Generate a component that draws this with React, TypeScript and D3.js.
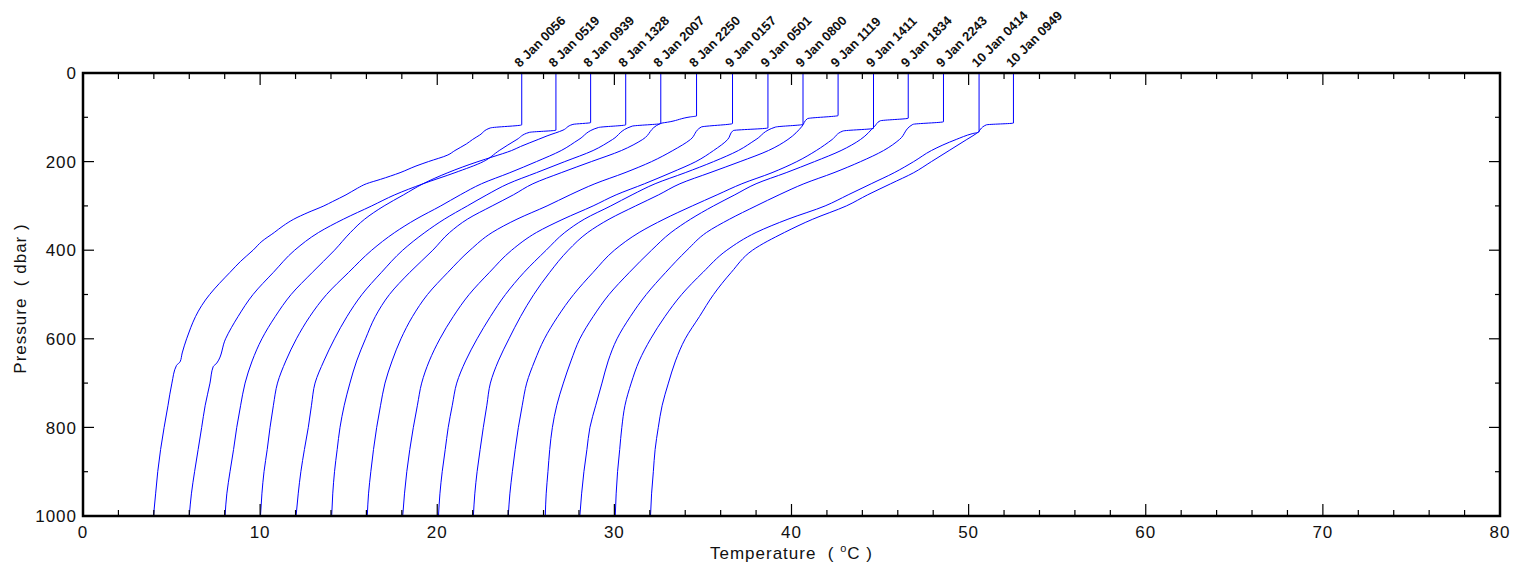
import React from 'react';
import * as d3 from 'd3';

// ---- data: [pressure (dbar), temperature (°C)] per cast; plotted with a 2 °C offset per cast ----
const castLabels = [
  '8 Jan 0056', '8 Jan 0519', '8 Jan 0939', '8 Jan 1328', '8 Jan 2007', '8 Jan 2250',
  '9 Jan 0157', '9 Jan 0501', '9 Jan 0800', '9 Jan 1119', '9 Jan 1411', '9 Jan 1834',
  '9 Jan 2243', '10 Jan 0414', '10 Jan 0949',
];
const castOffsets = [0, 2, 4, 6, 8, 10, 12, 14, 16, 18, 20, 22, 24, 26, 28];

const cast01: [number, number][] = [[0,24.77],[117,24.77],[124,23.0],[140,22.4],[150,22.0],[160,21.65],[175,21.0],[185,20.6],[200,19.5],[210,18.8],[225,17.9],[240,16.8],[250,16.0],[260,15.5],[275,14.85],[290,14.1],[300,13.6],[315,12.7],[330,11.9],[345,11.3],[360,10.8],[380,10.1],[400,9.6],[425,8.9],[450,8.3],[475,7.7],[500,7.15],[525,6.7],[550,6.35],[575,6.08],[600,5.85],[632,5.6],[652,5.48],[660,5.28],[700,5.02],[750,4.8],[800,4.58],[850,4.38],[900,4.22],[950,4.1],[1000,3.98]];
const cast02: [number, number][] = [[0,24.70],[129,24.70],[134,23.2],[150,22.5],[175,21.5],[200,20.6],[225,19.0],[250,17.2],[275,15.6],[300,14.3],[330,12.7],[360,11.3],[400,9.95],[450,8.75],[500,7.6],[550,6.75],[600,6.05],[655,5.55],[663,5.35],[700,5.17],[750,4.9],[800,4.7],[850,4.5],[900,4.3],[950,4.12],[1000,4.0]];
const cast03: [number, number][] = [[0,24.66],[112,24.66],[116,23.66],[129,23.1],[142,22.2],[150,21.7],[166,20.7],[175,20.2],[189,19.15],[200,18.3],[225,16.6],[250,15.2],[275,14.1],[300,13.0],[330,11.9],[360,11.1],[400,10.2],[450,8.95],[500,7.75],[550,6.85],[600,6.1],[650,5.55],[700,5.15],[750,4.9],[800,4.68],[850,4.5],[900,4.3],[950,4.12],[1000,4.02]];
const cast04: [number, number][] = [[0,24.64],[117,24.64],[123,23.1],[150,22.0],[175,21.0],[200,19.6],[225,18.1],[250,16.5],[275,15.3],[300,14.2],[330,12.8],[360,11.6],[400,10.3],[450,9.0],[500,7.75],[550,6.8],[600,6.05],[650,5.45],[700,4.98],[750,4.75],[800,4.56],[850,4.4],[900,4.22],[950,4.1],[1000,4.02]];
const cast05: [number, number][] = [[0,24.62],[114,24.62],[120,23.0],[150,21.9],[175,20.8],[200,19.2],[225,17.6],[250,16.0],[275,14.8],[300,13.7],[330,12.4],[360,11.3],[400,10.05],[450,8.85],[500,7.75],[550,6.9],[600,6.2],[650,5.6],[700,5.1],[750,4.9],[800,4.72],[850,4.5],[900,4.3],[950,4.15],[1000,4.03]];
const cast06: [number, number][] = [[0,24.64],[97,24.64],[99,24.3],[110,23.15],[114,22.6],[150,21.6],[175,20.4],[200,18.7],[225,17.0],[250,15.4],[275,14.3],[300,13.1],[330,11.7],[360,10.7],[400,9.75],[450,8.45],[500,7.3],[550,6.5],[600,5.95],[650,5.45],[700,5.07],[750,4.75],[800,4.51],[850,4.35],[900,4.2],[950,4.1],[1000,4.04]];
const cast07: [number, number][] = [[0,24.67],[114,24.67],[122,22.9],[150,22.3],[175,21.3],[200,20.1],[225,18.6],[250,16.9],[275,15.5],[300,14.2],[330,12.5],[360,11.1],[400,9.85],[450,8.6],[500,7.45],[550,6.6],[600,5.95],[650,5.45],[700,5.05],[750,4.8],[800,4.58],[850,4.4],[900,4.25],[950,4.12],[1000,4.05]];
const cast08: [number, number][] = [[0,24.67],[124,24.67],[130,22.7],[150,22.4],[175,21.6],[200,20.6],[225,19.2],[250,17.7],[275,16.1],[300,14.8],[330,13.1],[360,11.6],[400,10.2],[450,8.95],[500,7.8],[550,6.9],[600,6.15],[650,5.55],[700,5.12],[750,4.88],[800,4.65],[850,4.45],[900,4.28],[950,4.15],[1000,4.05]];
const cast09: [number, number][] = [[0,24.65],[116,24.65],[122,23.1],[150,22.0],[175,21.0],[200,19.6],[225,18.0],[250,16.3],[275,15.0],[300,13.8],[330,12.3],[360,11.2],[400,10.15],[450,8.9],[500,7.85],[550,7.0],[600,6.25],[650,5.6],[700,5.1],[750,4.85],[800,4.62],[850,4.45],[900,4.28],[950,4.15],[1000,4.07]];
const cast10: [number, number][] = [[0,24.63],[96,24.63],[103,22.9],[120,22.6],[150,21.8],[175,20.7],[200,19.1],[225,17.4],[250,15.7],[275,14.5],[300,13.2],[330,11.7],[360,10.5],[400,9.4],[450,8.35],[500,7.45],[550,6.7],[600,6.05],[650,5.45],[700,5.0],[750,4.8],[800,4.6],[850,4.42],[900,4.25],[950,4.12],[1000,4.04]];
const cast11: [number, number][] = [[0,24.63],[125,24.63],[131,22.9],[150,22.3],[175,21.4],[200,20.3],[225,18.9],[250,17.2],[275,15.8],[300,14.4],[330,12.8],[360,11.4],[400,10.0],[450,8.8],[500,7.7],[550,6.8],[600,6.05],[650,5.5],[700,5.05],[750,4.8],[800,4.58],[850,4.4],[900,4.24],[950,4.1],[1000,4.01]];
const cast12: [number, number][] = [[0,24.59],[102,24.59],[108,23.0],[120,22.7],[150,21.9],[175,20.8],[200,19.3],[225,17.7],[250,16.0],[275,14.8],[300,13.6],[330,12.3],[360,11.2],[400,10.1],[450,8.85],[500,7.7],[550,6.8],[600,6.05],[650,5.55],[700,5.12],[750,4.75],[800,4.5],[850,4.35],[900,4.25],[950,4.15],[1000,4.1]];
const cast13: [number, number][] = [[0,24.58],[110,24.58],[116,22.85],[150,22.1],[175,21.2],[200,19.9],[225,18.4],[250,16.7],[275,15.3],[300,14.0],[330,12.5],[360,11.2],[400,10.1],[450,8.9],[500,7.8],[550,6.9],[600,6.15],[650,5.65],[700,5.3],[750,4.95],[800,4.62],[850,4.45],[900,4.28],[950,4.15],[1000,4.05]];
const cast14: [number, number][] = [[0,24.59],[133,24.59],[137,24.2],[150,23.3],[175,21.9],[200,20.9],[225,19.8],[250,18.5],[275,17.2],[300,15.9],[330,13.8],[360,12.0],[400,10.35],[450,9.0],[500,7.8],[550,6.85],[600,6.05],[650,5.4],[700,4.95],[750,4.6],[800,4.42],[850,4.3],[900,4.18],[950,4.1],[1000,4.05]];
const cast15: [number, number][] = [[0,24.53],[113,24.53],[117,23.0],[136,22.46],[150,21.9],[175,20.9],[200,19.9],[225,18.9],[250,17.6],[275,16.3],[300,15.1],[330,13.2],[360,11.6],[400,9.8],[450,8.6],[500,7.6],[550,6.8],[600,6.0],[650,5.45],[700,5.05],[750,4.7],[800,4.48],[850,4.3],[900,4.2],[950,4.1],[1000,4.04]];

const casts = [cast01, cast02, cast03, cast04, cast05, cast06, cast07, cast08, cast09, cast10, cast11, cast12, cast13, cast14, cast15];

const xTickLabels = [0, 10, 20, 30, 40, 50, 60, 70, 80];
const yTickLabels = [0, 200, 400, 600, 800, 1000];

// ---- layout ----
const W = 1516;
const H = 571;
const X0 = 83, X1 = 1500, Y0 = 73, Y1 = 516;
const FONT = "'Liberation Sans', Arial, Helvetica, sans-serif";

const x = d3.scaleLinear().domain([0, 80]).range([X0, X1]);
const y = d3.scaleLinear().domain([0, 1000]).range([Y0, Y1]);

export default function App() {
  const minorX = x.ticks(40);
  const minorY = y.ticks(10);
  const isMajorX = (v: number) => xTickLabels.includes(v);
  const isMajorY = (v: number) => yTickLabels.includes(v);

  return (
    <svg width={W} height={H} style={{ position: 'absolute', left: 0, top: 0, background: '#fff' }}>
      <rect x={0} y={0} width={W} height={H} fill="#fff" />
      {/* profiles */}
      <g fill="none" stroke="#0000ff" strokeWidth={1}>
        {casts.map((c, i) => {
          const line = d3.line<[number, number]>()
            .x(d => x(d[1] + castOffsets[i]))
            .y(d => y(d[0]))
            .curve(d3.curveMonotoneY);
          return <path key={i} d={line(c) || ''} />;
        })}
      </g>
      {/* ticks */}
      <g stroke="#000" strokeWidth={1.2}>
        {minorX.map(v => {
          const len = isMajorX(v) ? 12 : 6;
          return (
            <g key={'x' + v}>
              <line x1={x(v)} x2={x(v)} y1={Y1} y2={Y1 - len} />
              <line x1={x(v)} x2={x(v)} y1={Y0} y2={Y0 + len} />
            </g>
          );
        })}
        {minorY.map(v => {
          const len = isMajorY(v) ? 11 : 5;
          return (
            <g key={'y' + v}>
              <line x1={X0} x2={X0 + len} y1={y(v)} y2={y(v)} />
              <line x1={X1} x2={X1 - len} y1={y(v)} y2={y(v)} />
            </g>
          );
        })}
      </g>
      <rect x={X0} y={Y0} width={X1 - X0} height={Y1 - Y0} fill="none" stroke="#000" strokeWidth={2.5} />
      {/* tick labels */}
      <g fontFamily={FONT} fontSize={17} fill="#111" letterSpacing={1}>
        {xTickLabels.map(v => (
          <text key={'xl' + v} x={x(v)} y={538} textAnchor="middle">{v}</text>
        ))}
        {yTickLabels.map(v => (
          <text key={'yl' + v} x={77} y={y(v)} dy="0.36em" textAnchor="end">{v}</text>
        ))}
      </g>
      {/* axis titles */}
      <text x={(X0 + X1) / 2} y={559} textAnchor="middle" fontFamily={FONT} fontSize={17} fill="#111" letterSpacing={1} style={{ whiteSpace: 'pre' }}>
        {'Temperature  ( '}<tspan fontSize={11} dy={-7}>o</tspan><tspan dy={7}>{'C )'}</tspan>
      </text>
      <text transform={`translate(26, ${(Y0 + Y1) / 2 + 4}) rotate(-90)`} textAnchor="middle" fontFamily={FONT} fontSize={17} fill="#111" letterSpacing={1} style={{ whiteSpace: 'pre' }}>
        {'Pressure  ( dbar )'}
      </text>
      {/* cast labels */}
      <g fontFamily={FONT} fontSize={13} fontWeight="bold" fill="#111">
        {casts.map((c, i) => {
          const px = x(c[0][1] + castOffsets[i]) - 2;
          return (
            <text key={'cl' + i} transform={`translate(${px}, 68) rotate(-45)`}>{castLabels[i]}</text>
          );
        })}
      </g>
    </svg>
  );
}
